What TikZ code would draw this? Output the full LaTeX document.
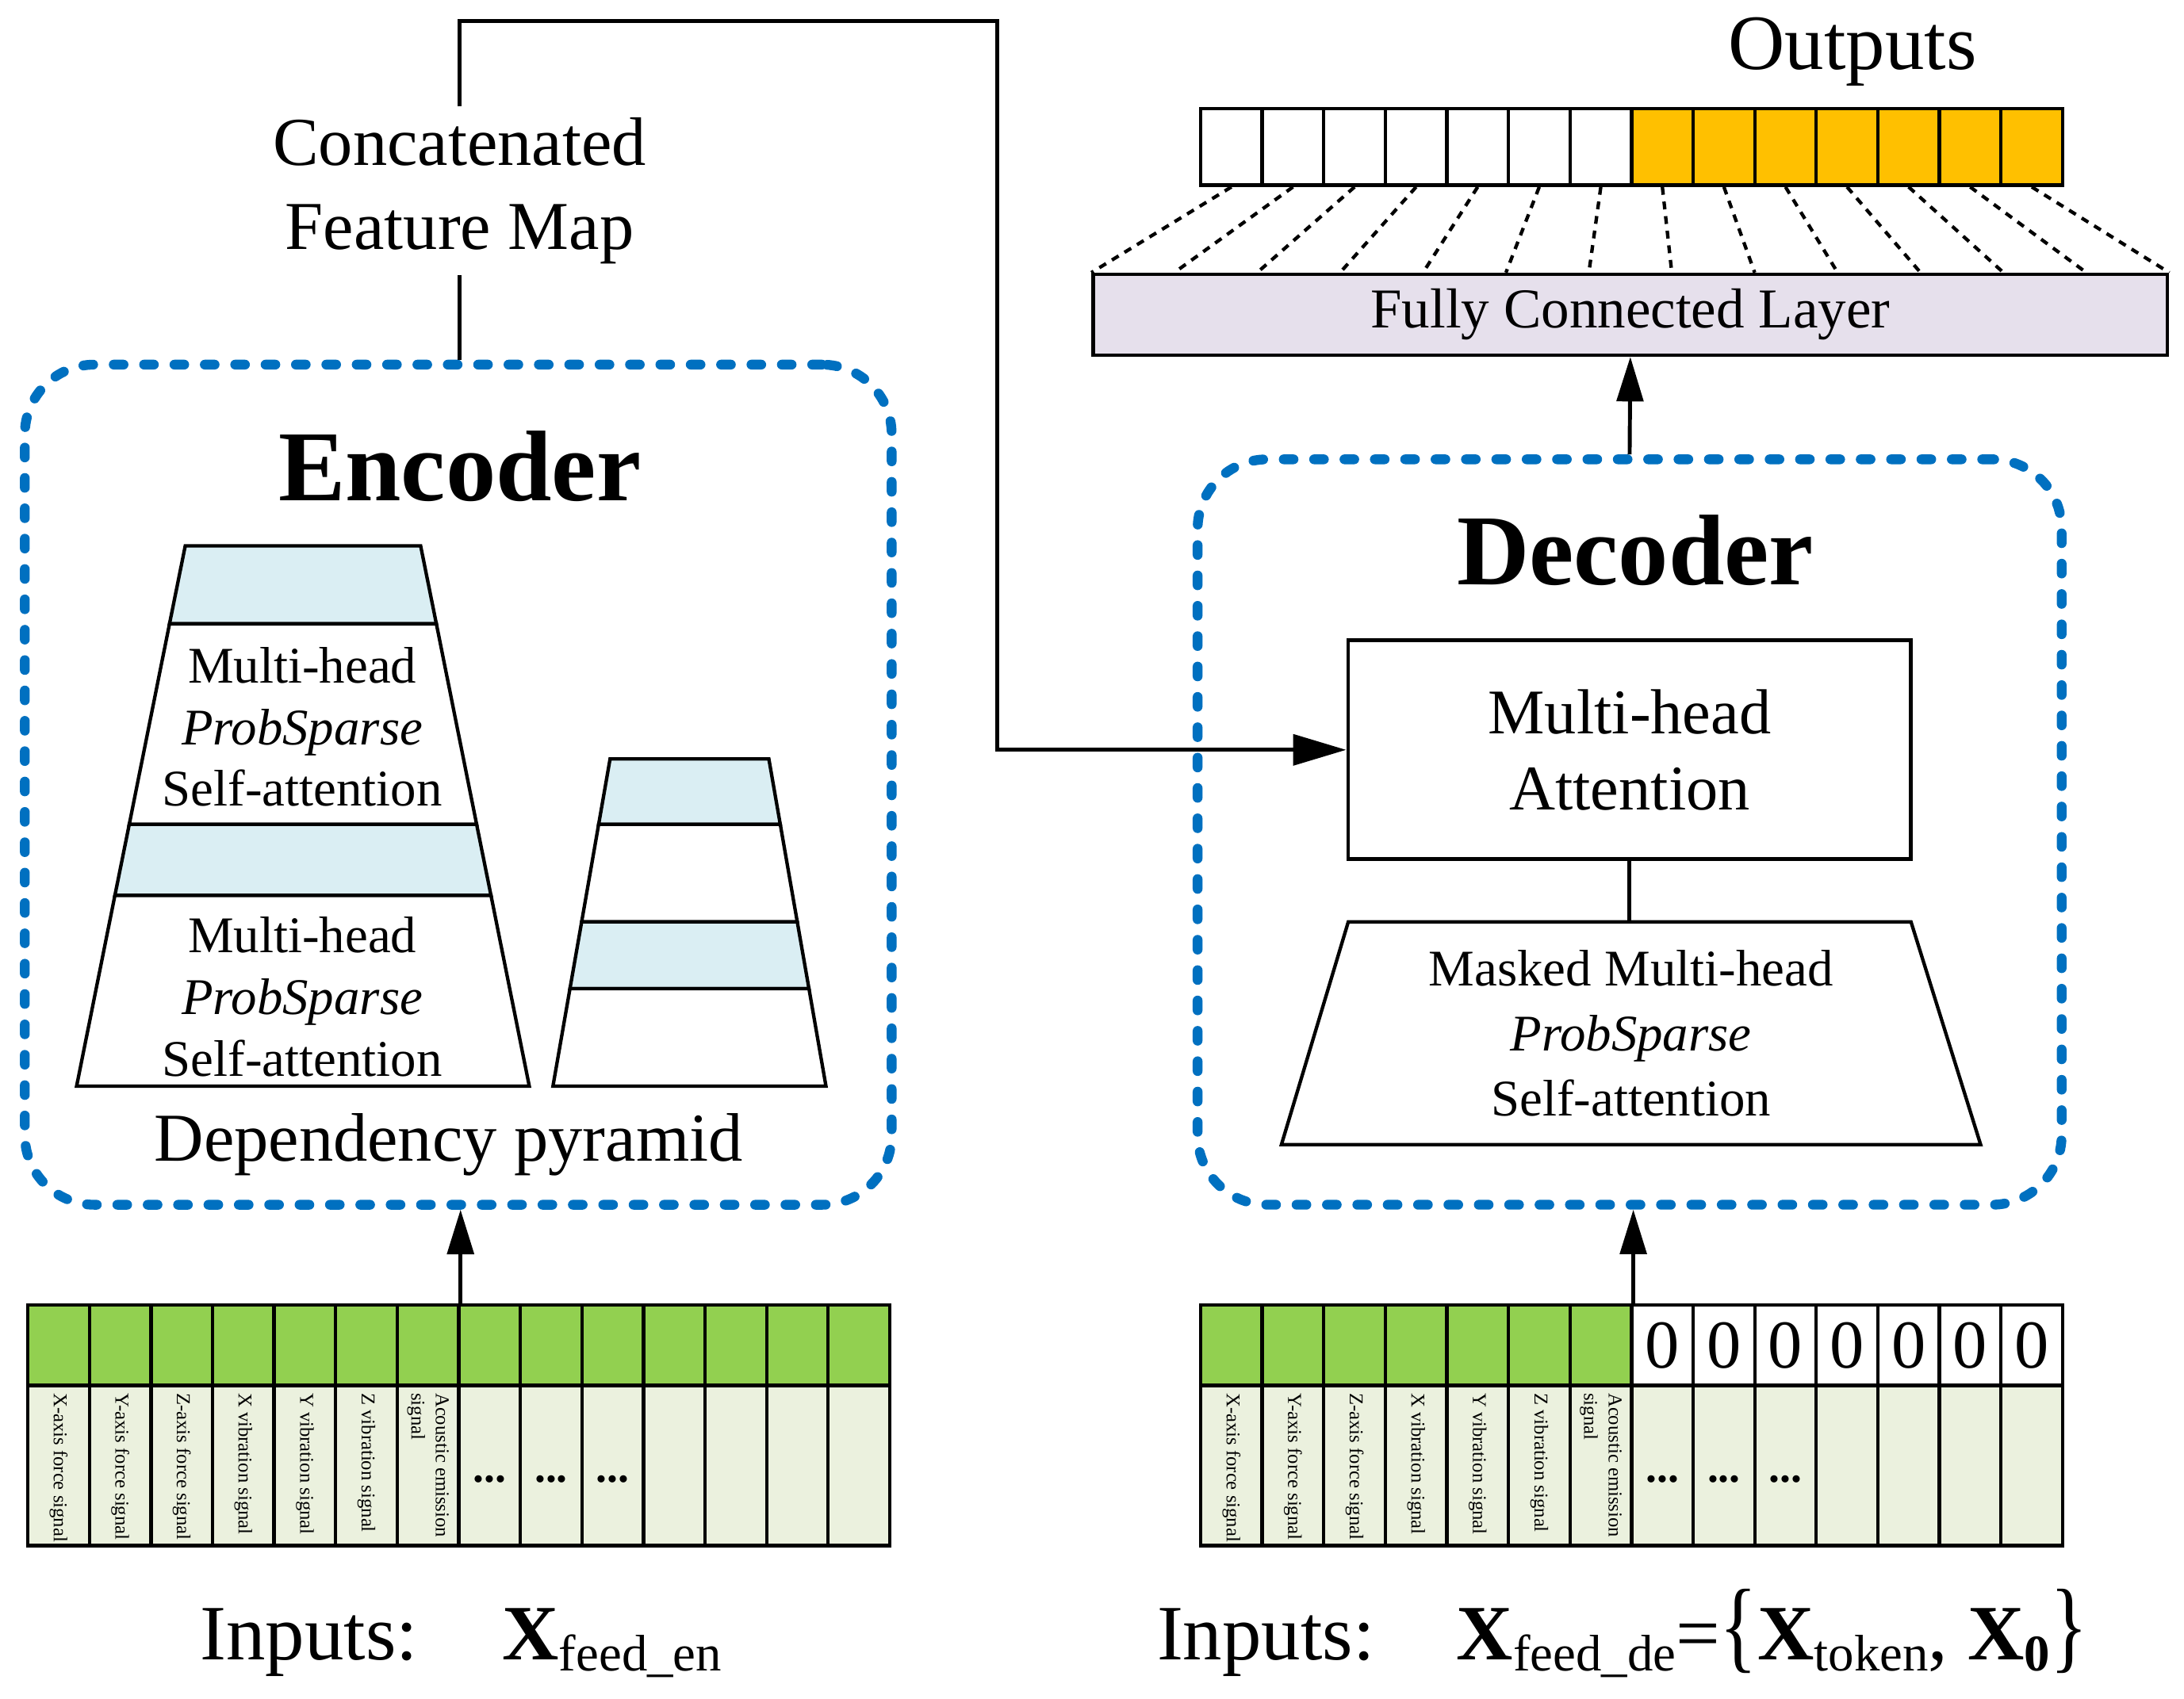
\documentclass[tikz,border=0pt]{standalone}
\usepackage{fontspec}
\setmainfont{Liberation Serif}
\usetikzlibrary{arrows.meta,calc}

\definecolor{ingreen}{RGB}{146,208,80}
\definecolor{inlight}{RGB}{235,241,222}
\definecolor{outorange}{RGB}{255,192,0}
\definecolor{fcpurple}{RGB}{230,224,236}
\definecolor{bandblue}{RGB}{218,238,243}
\definecolor{dashblue}{RGB}{0,112,192}

\newcommand{\lowsub}[1]{\raisebox{-0.3ex}{\fontsize{10.5}{10.5}\selectfont #1}}

\tikzset{
    dashbox/.style={draw=dashblue, line width=2pt, dash pattern=on 2pt off 4.2pt, line cap=round, rounded corners=0.5cm, inner sep=0},
    cell/.style={draw, line width=0.7pt, inner sep=0, minimum width=0.442cm},
    band/.style={draw, line width=0.7pt, fill=bandblue},
    layer/.style={draw, line width=0.7pt, fill=white},
    link/.style={line width=0.8pt},
    arrowlink/.style={line width=0.8pt, -{Triangle[length=0.32cm,width=0.19cm]}},
    dotlink/.style={line width=0.7pt, dash pattern=on 1.6pt off 1.4pt},
    sig/.style={rotate=-90, anchor=west, align=left, inner sep=0, font=\fontsize{4}{5}\selectfont},
    layertext/.style={align=center, inner sep=0, font=\fontsize{10.5}{12.6}\selectfont},
    bigtext/.style={inner sep=0, font=\fontsize{16}{19}\selectfont},
}

\begin{document}
\begin{tikzpicture}[x=0.01cm, y=-0.01cm]
    \useasboundingbox (0,0) rectangle (1568,1220);

    \node[dashbox, minimum width=6.22cm, minimum height=6.03cm] (enc) at (329,563.5) {};
    \node[dashbox, minimum width=6.2cm, minimum height=5.35cm] (dec) at (1170,597.5) {};

    \node[font=\fontsize{20.5}{24}\selectfont\bfseries] (enctitle) at (330,335) {Encoder};
    \node[font=\fontsize{20.5}{24}\selectfont\bfseries] (dectitle) at (1174,395) {Decoder};

    \node[align=center, inner sep=2pt, font=\fontsize{14}{17.3}\selectfont] (cfm) at (330,137) {Concatenated\\Feature Map};
    \coordinate (bend) at (716,15);

    \draw[band] (133,392) -- (302,392) -- (313.3,448) -- (121.7,448) -- cycle;
    \draw[layer] (121.7,448) -- (313.3,448) -- (342.2,592) -- (92.8,592) -- cycle;
    \draw[band] (92.8,592) -- (342.2,592) -- (352.5,643) -- (82.5,643) -- cycle;
    \draw[layer] (82.5,643) -- (352.5,643) -- (380,780) -- (55,780) -- cycle;
    \node[layertext] (sa1) at (217,522) {Multi-head\\\textit{ProbSparse}\\Self-attention};
    \node[layertext] (sa2) at (217,716) {Multi-head\\\textit{ProbSparse}\\Self-attention};

    \draw[band] (438,545) -- (552,545) -- (560.2,592) -- (429.8,592) -- cycle;
    \draw[layer] (429.8,592) -- (560.2,592) -- (572.4,662) -- (417.6,662) -- cycle;
    \draw[band] (417.6,662) -- (572.4,662) -- (580.8,710) -- (409.2,710) -- cycle;
    \draw[layer] (409.2,710) -- (580.8,710) -- (593,780) -- (397,780) -- cycle;

    \node[font=\fontsize{14}{17}\selectfont] (dep) at (322,822) {Dependency pyramid};

    \node[draw, line width=0.8pt, minimum width=4.04cm, minimum height=1.57cm, align=center, font=\fontsize{13}{15.6}\selectfont] (att) at (1170,538.5) {Multi-head\\Attention};
    \draw[layer] (968,662) -- (1372,662) -- (1422,822) -- (920,822) -- cycle;
    \coordinate (masktop) at (1170,662);
    \node[layertext, font=\fontsize{10.5}{13.3}\selectfont] (mask) at (1171,742) {Masked Multi-head\\\textit{ProbSparse}\\Self-attention};

    \node[draw, line width=0.7pt, fill=fcpurple, minimum width=7.71cm, minimum height=0.58cm, inner sep=0, font=\fontsize{11.5}{13}\selectfont] (fc) at (1170.5,226) {Fully Connected Layer};
    \node[bigtext] (outlabel) at (1330,37) {Outputs};

    \foreach \i in {0,...,6}
        \node[cell, fill=white, minimum height=0.55cm] (out\i) at ({862+(\i+0.5)*44.2},105.5) {};
    \foreach \i in {7,...,13}
        \node[cell, fill=outorange, minimum height=0.55cm] (out\i) at ({862+(\i+0.5)*44.2},105.5) {};
    \foreach \i [evaluate=\i as \f using \i/13] in {0,...,13}
        \draw[dotlink] (out\i.south) -- ($(fc.north west)!\f!(fc.north east)$);

    \foreach \i in {0,...,13} {
        \node[cell, fill=ingreen, minimum height=0.58cm] (ent\i) at ({20+(\i+0.5)*44.2},966) {};
        \node[cell, fill=inlight, minimum height=1.15cm] (enb\i) at ({20+(\i+0.5)*44.2},1052.5) {};
        \node[cell, fill=inlight, minimum height=1.15cm] (deb\i) at ({862+(\i+0.5)*44.2},1052.5) {};
    }
    \foreach \i in {0,...,6}
        \node[cell, fill=ingreen, minimum height=0.58cm] (det\i) at ({862+(\i+0.5)*44.2},966) {};
    \foreach \i in {7,...,13}
        \node[cell, fill=white, minimum height=0.58cm, font=\fontsize{14}{14}\selectfont] (det\i) at ({862+(\i+0.5)*44.2},966) {0};

    \foreach \bot in {enb,deb} {
        \foreach \sigtext [count=\i from 0] in {X-axis force signal, Y-axis force signal, Z-axis force signal, X vibration signal, Y vibration signal, Z vibration signal, {Acoustic emission\\signal}}
            \node[sig] at ($(\bot\i.north)+(0,6)$) {\sigtext};
        \foreach \i in {7,8,9}
            \node[font=\fontsize{9}{9}\selectfont\bfseries] at ($(\bot\i.center)+(0,10)$) {...};
    }

    \node[bigtext, anchor=base west] (inen) at (143,1192) {Inputs:};
    \node[bigtext, anchor=base west] (xen) at (360,1192) {\textbf{X}\lowsub{feed\_en}};
    \node[bigtext, anchor=base west] (inde) at (830,1192) {Inputs:};
    \node[bigtext, anchor=base west] (xde) at (1045,1192) {\textbf{X}\lowsub{feed\_de}=\scalebox{1}[1.3]{\{}\textbf{X}\lowsub{token}, \textbf{X}\lowsub{\textbf{0}}\scalebox{1}[1.3]{\}}};

    \draw[link] (cfm.south) -- (cfm.south |- enc.north);
    \draw[arrowlink, -{Triangle[length=0.38cm,width=0.22cm]}] (cfm.north) |- (bend) |- (att.west);
    \draw[arrowlink] (ent6.north east) -- (ent6.north east |- enc.south);
    \draw[arrowlink] (det6.north east) -- (det6.north east |- dec.south);
    \draw[arrowlink] (dec.north) -- (fc.south);
    \draw[link] (att.south) -- (masktop);
\end{tikzpicture}
\end{document}
